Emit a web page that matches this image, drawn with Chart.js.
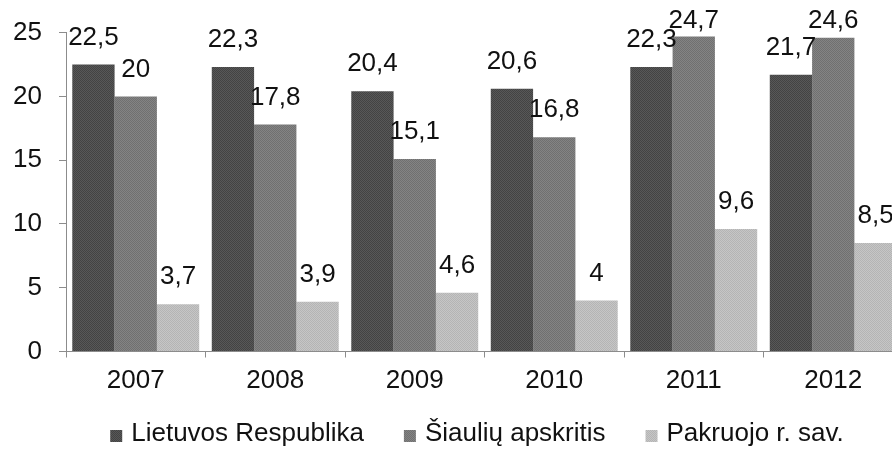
<!DOCTYPE html>
<html>
<head>
<meta charset="utf-8">
<script src="https://cdn.jsdelivr.net/npm/chart.js@4/dist/chart.umd.min.js"></script>
<style>
  html, body { margin: 0; padding: 0; background: #fff; overflow: hidden; }
  #wrap { width: 905px; height: 452px; }
</style>
</head>
<body>
<div id="wrap"><canvas id="c" width="905" height="452"></canvas></div>
<script>
// Categories and series values
const years = ['2007', '2008', '2009', '2010', '2011', '2012'];
const lietuvosRespublika = [22.5, 22.3, 20.4, 20.6, 22.3, 21.7];
const siauliuApskritis = [20, 17.8, 15.1, 16.8, 24.7, 24.6];
const pakruojoSav = [3.7, 3.9, 4.6, 4, 9.6, 8.5];
const seriesNames = ['Lietuvos Respublika', 'Šiaulių apskritis', 'Pakruojo r. sav.'];
const yMin = 0, yMax = 25, yStep = 5;

const FONT = '"Liberation Sans", Arial, Helvetica, sans-serif';
const canvas = document.getElementById('c');
const ctx = canvas.getContext('2d');

// Fine two-tone dither so the grey fills read like a printed screen
function dither(a, b) {
  const tile = document.createElement('canvas');
  tile.width = 2; tile.height = 2;
  const g = tile.getContext('2d');
  g.fillStyle = a; g.fillRect(0, 0, 2, 2);
  g.fillStyle = b; g.fillRect(0, 0, 1, 1); g.fillRect(1, 1, 1, 1);
  return ctx.createPattern(tile, 'repeat');
}

// Value labels above each bar, decimal comma, kept inside the top edge
const valueLabels = {
  id: 'valueLabels',
  afterDatasetsDraw(chart) {
    const c = chart.ctx;
    c.save();
    c.font = '26px ' + FONT;
    c.fillStyle = '#111';
    c.textAlign = 'center';
    c.textBaseline = 'middle';
    chart.data.datasets.forEach((ds, i) => {
      chart.getDatasetMeta(i).data.forEach((bar, j) => {
        const txt = String(ds.data[j]).replace('.', ',');
        const y = Math.max(bar.y - 27, 21);
        c.fillText(txt, bar.x, y);
      });
    });
    c.restore();
  }
};

// One-row legend under the axis: small square swatch, then the series name
const bottomLegend = {
  id: 'bottomLegend',
  afterDraw(chart) {
    const c = chart.ctx;
    c.save();
    c.font = '26px ' + FONT;
    c.textBaseline = 'middle';
    c.textAlign = 'left';
    const box = 12, gap = 9, spacing = 40, centerX = 477, y = 434;
    const items = chart.data.datasets.map(ds => ({
      text: ds.label, fill: ds.backgroundColor, w: c.measureText(ds.label).width
    }));
    const total = items.reduce((s, it) => s + box + gap + it.w, 0) + spacing * (items.length - 1);
    let x = centerX - total / 2;
    items.forEach(it => {
      c.fillStyle = it.fill;
      c.fillRect(x, y - 4, box, box);
      c.fillStyle = '#111';
      c.fillText(it.text, x + box + gap, y);
      x += box + gap + it.w + spacing;
    });
    c.restore();
  }
};

const axisGrey = '#8c8c8c';

new Chart(ctx, {
  type: 'bar',
  data: {
    labels: years,
    datasets: [
      { label: seriesNames[0], data: lietuvosRespublika, backgroundColor: dither('#585858', '#434343') },
      { label: seriesNames[1], data: siauliuApskritis, backgroundColor: dither('#848484', '#707070') },
      { label: seriesNames[2], data: pakruojoSav, backgroundColor: dither('#c6c6c6', '#b4b4b4') }
    ]
  },
  options: {
    responsive: false,
    animation: false,
    events: [],
    layout: { padding: { top: 31, left: 0, right: 2, bottom: 54.5 } },
    datasets: { bar: { categoryPercentage: 0.91, barPercentage: 1.0, borderWidth: 0 } },
    scales: {
      x: {
        offset: true,
        grid: { display: true, drawOnChartArea: false, drawTicks: true, tickLength: 6, color: axisGrey, offset: true },
        border: { display: true, color: axisGrey, width: 1 },
        ticks: { color: '#111', font: { family: FONT, size: 26 }, padding: 8, maxRotation: 0 },
        afterFit(scale) { scale.height = 46; }
      },
      y: {
        min: yMin, max: yMax,
        grid: { display: true, drawOnChartArea: false, drawTicks: true, tickLength: 7, color: axisGrey },
        border: { display: true, color: axisGrey, width: 1 },
        ticks: { stepSize: yStep, color: '#111', font: { family: FONT, size: 26 }, padding: 17 },
        afterFit(scale) { scale.width = 66; }
      }
    },
    plugins: {
      legend: { display: false },
      tooltip: { enabled: false }
    }
  },
  plugins: [valueLabels, bottomLegend]
});
</script>
</body>
</html>
